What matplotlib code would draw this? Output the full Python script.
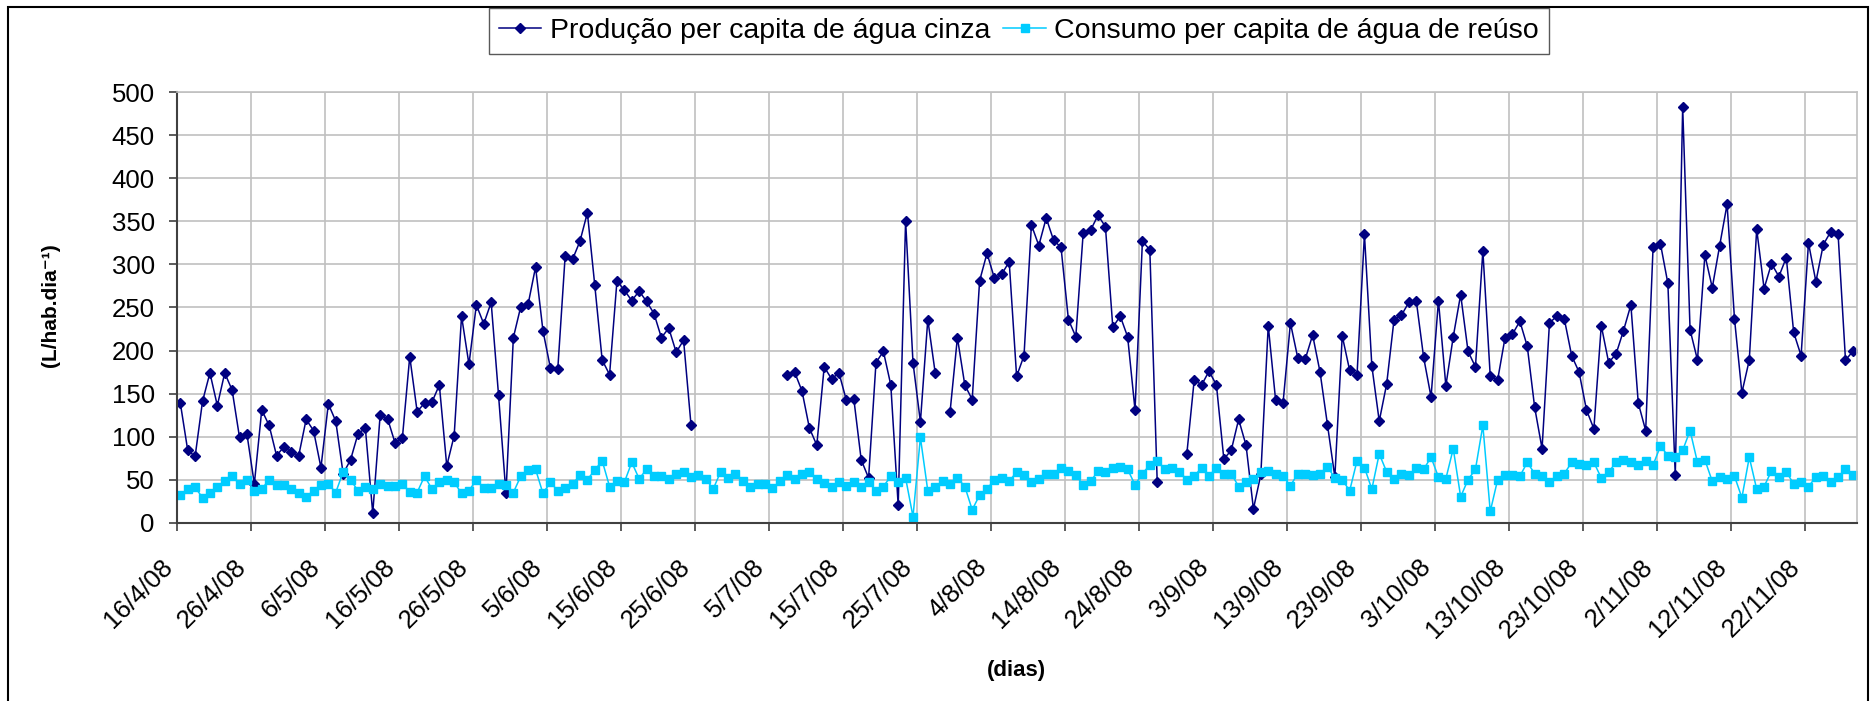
import matplotlib.pyplot as plt
import matplotlib.patches as mpatches
from matplotlib.transforms import ScaledTranslation
import numpy as np

plt.rcParams['font.family'] = ['Liberation Sans', 'DejaVu Sans']

# dias desde 16/4/08 (um valor por dia, 227 dias)
nan = np.nan
producao = [139, 84, 77, 141, 174, 136, 174, 154, 99, 103, 45, 131, 113, 78, 88, 82, 78, 120, 107, 64,
            138, 118, 57, 73, 103, 110, 11, 125, 121, 93, 98, 193, 129,
            139, 140, 160, 66, 101, 240, 184, 253, 231, 256, 148, 34, 215, 251, 254, 297, 223, 180, 178,
            310, 306, 327, 360, 276, 189, 172, 281, 270, 258, 269, 257, 243, 215,
            226, 198, 212, 114,
            nan, nan, nan, nan, nan, nan, nan, nan, nan, nan, nan, nan,
            172, 175, 153, 110, 90, 181, 167, 174, 142, 144, 73, 52, 186, 199, 160, 20, 351, 186, 117, 236, 174,
            nan,
            128, 215, 160, 143, 281, 313, 284, 289, 303, 170, 194, 346, 322, 354, 328, 320, 236, 216, 337,
            340, 357, 344, 227, 240, 216, 131, 327, 317, 47,
            nan, nan, nan,
            80, 166, 160, 176, 160, 74, 84, 120, 90, 16, 56, 229, 142, 139, 232, 191, 190, 218, 175, 114,
            53, 217, 177, 172, 335, 182, 118,
            161, 236, 241, 256, 258, 192, 146, 258, 159, 216, 265, 199, 181, 316, 170, 166, 215, 219, 234,
            205, 134, 86, 232, 240, 237, 194, 175, 131, 109, 229, 186,
            196, 223, 253, 139, 107, 320, 324, 278, 55, 483, 224, 189, 311, 273, 322, 370, 237, 151, 189,
            341, 272, 301, 286, 308, 221, 194, 325, 280, 323, 338, 335, 189, 199]

consumo = [32, 39, 41, 29, 35, 42, 48, 54, 45, 50, 37, 39, 50, 44, 44, 39, 35, 30, 37, 44, 45, 35, 59,
           50, 37, 41, 39, 45, 43, 43, 45, 36, 35,
           54, 39, 47, 50, 47, 34, 37, 50, 40, 40, 45, 44, 35, 54, 61, 62, 34, 47, 37, 40, 45, 55, 50,
           61, 72, 42, 48, 47, 70, 51, 62, 54, 54,
           51, 57, 59, 53, 55, 51, 39, 59, 52, 57, 48, 42, 45, 45, 40, 48, 55, 51, 57, 59, 51, 46, 42,
           47, 43, 47, 42, 47, 37, 42, 54, 47,
           52, 7, 99, 37, 42, 48, 45, 52, 42, 15, 32, 39, 50, 52, 48, 59, 55, 47, 51, 57, 57, 64, 60,
           55, 44, 48, 60, 59, 64, 65, 62, 44, 57,
           67, 72, 62, 64, 59, 50, 54, 64, 54, 64, 57, 57, 42, 47, 51, 59, 60, 57, 54, 43, 57, 57, 55,
           57, 65, 52, 50, 37, 72, 64, 39, 80,
           59, 51, 57, 55, 63, 62, 76, 53, 51, 86, 30, 50, 62, 113, 13, 50, 55, 55, 54, 70, 57, 54, 47,
           54, 57, 70, 68, 67, 70, 52, 59,
           70, 73, 70, 67, 72, 67, 89, 78, 76, 84, 107, 70, 73, 48, 53, 51, 54, 29, 76, 39, 42, 60, 53,
           59, 45, 47, 42, 53, 54, 47, 53, 62, 55]

datas = ["16/4/08", "26/4/08", "6/5/08", "16/5/08", "26/5/08", "5/6/08", "15/6/08", "25/6/08",
         "5/7/08", "15/7/08", "25/7/08", "4/8/08", "14/8/08", "24/8/08", "3/9/08", "13/9/08",
         "23/9/08", "3/10/08", "13/10/08", "23/10/08", "2/11/08", "12/11/08", "22/11/08"]

labels = ["Produção per capita de água cinza", "Consumo per capita de água de reúso"]

n = len(producao)
x = np.arange(n) + 0.5

fig = plt.figure(figsize=(18.71, 7.01), dpi=100)
ax = fig.add_axes([0.0944, 0.2544, 0.8979, 0.6139])

ax.plot(x, producao, color='#000080', marker='D', markersize=4.8, markeredgewidth=1.0,
        linewidth=1.1, label=labels[0])
ax.plot(x, consumo, color='#00CCFF', marker='s', markersize=5.8, markeredgewidth=1.0,
        linewidth=1.1, label=labels[1])

ax.set_xlim(0, n)
ax.set_ylim(0, 500)
ax.set_yticks(range(0, 501, 50))
ax.set_xticks(np.arange(0, 10 * len(datas), 10))
ax.set_xticklabels(datas, rotation=45, ha='right', va='baseline', rotation_mode='anchor')
ax.tick_params(axis='both', labelsize=18.5, direction='out', length=5.8, width=1.2, color='#404040')
ax.tick_params(axis='x', pad=27)
ax.tick_params(axis='y', pad=10)
desloc = ScaledTranslation(-3 / 100, 0, fig.dpi_scale_trans)
for t in ax.get_xticklabels():
    t.set_transform(t.get_transform() + desloc)

ax.grid(True, color='#c0c0c0', linewidth=1.2)
ax.set_axisbelow(True)
for s in ['top', 'right']:
    ax.spines[s].set_color('#c0c0c0')
    ax.spines[s].set_linewidth(1.2)
for s in ['left', 'bottom']:
    ax.spines[s].set_color('#404040')
    ax.spines[s].set_linewidth(1.5)

ax.set_ylabel("(L/hab.dia⁻¹)", fontsize=15, fontweight='bold')
ax.yaxis.set_label_coords(-0.0695, 0.506)
ax.set_xlabel("(dias)", fontsize=16, fontweight='bold')
ax.xaxis.set_label_coords(0.5, -0.319)

fig.legend(loc='center', bbox_to_anchor=(0.5446, 0.956), ncol=2, fontsize=20.5,
           frameon=True, fancybox=False, edgecolor='#303030', handlelength=1.5,
           columnspacing=0.45, handletextpad=0.3, borderpad=0.35, borderaxespad=0)

# moldura externa do grafico
fig.patches.append(mpatches.Rectangle((8 / 1871, -0.01), 1860 / 1871, 1 - 7 / 701 + 0.01,
                                      transform=fig.transFigure, fill=False,
                                      edgecolor='black', linewidth=1.5))

fig.savefig("out.png", dpi=100)
